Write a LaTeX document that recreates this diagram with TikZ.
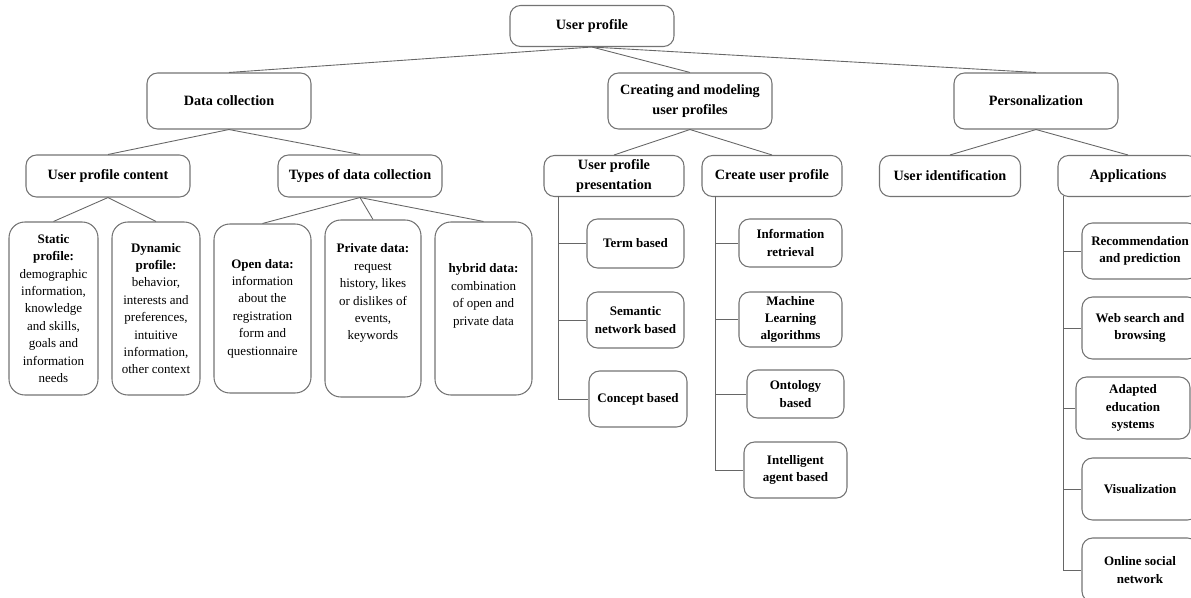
\documentclass[tikz,border=0pt]{standalone}
\usepackage{fontspec}
\setmainfont{Liberation Serif}
\tikzset{
  boxbase/.style={draw=black!55, line width=0.6pt, rounded corners=6pt, align=center, inner sep=1pt},
  headbox/.style={boxbase, font=\fontsize{8.1}{11}\selectfont\bfseries},
  leafbox/.style={boxbase, font=\fontsize{7.4}{9.9}\selectfont\bfseries},
  textbox/.style={boxbase, rounded corners=9pt, font=\fontsize{7.4}{9.9}\selectfont},
  sz/.style 2 args={minimum width=#1*0.02cm, minimum height=#2*0.02cm},
  link/.style={draw=black!60, line width=0.5pt}
}
\begin{document}
\begin{tikzpicture}[x=0.02cm,y=-0.02cm]
\useasboundingbox (0,0) rectangle (1191,598);
\clip (0,0) rectangle (1191,598);

\node[headbox,sz={164}{41}] (up) at (592,26) {User profile};

\node[headbox,sz={164}{56}] (dc) at (229,101) {Data collection};
\node[headbox,sz={164}{56}] (cm) at (690,101) {Creating and modeling\\user profiles};
\node[headbox,sz={164}{56}] (pz) at (1036,101) {Personalization};

\node[headbox,sz={164}{42}] (uc) at (108,176) {User profile content};
\node[headbox,sz={164}{42}] (td) at (360,176) {Types of data collection};
\node[headbox,sz={140}{41}] (upp) at (614,176) {User profile\\presentation};
\node[headbox,sz={140}{41}] (cup) at (772,176) {Create user profile};
\node[headbox,sz={141}{41}] (ui) at (950,176) {User identification};
\node[headbox,sz={140}{41}] (ap) at (1128,176) {Applications};

\node[textbox,sz={89}{173}] (st) at (53.5,308.5) {\textbf{Static}\\\textbf{profile:}\\demographic\\information,\\knowledge\\and skills,\\goals and\\information\\needs};
\node[textbox,sz={88}{173}] (dy) at (156,308.5) {\textbf{Dynamic}\\\textbf{profile:}\\behavior,\\interests and\\preferences,\\intuitive\\information,\\other context};
\node[textbox,sz={97}{169}] (od) at (262.5,308.5) {\textbf{Open data:}\\information\\about the\\registration\\form and\\questionnaire};
\node[textbox,sz={96}{177}] (pd) at (373,308.5) {\textbf{Private data:}\\request\\history, likes\\or dislikes of\\events,\\keywords\\[9pt]};
\node[textbox,sz={97}{173}] (hd) at (483.5,308.5) {\textbf{hybrid data:}\\combination\\of open and\\private data\\[6pt]};

\node[leafbox,sz={97}{49}] (tb) at (635.5,243.5) {Term based};
\node[leafbox,sz={97}{56}] (sn) at (635.5,320) {Semantic\\network based};
\node[leafbox,sz={98}{56}] (cb) at (638,399) {Concept based};

\node[leafbox,sz={103}{48}] (ir) at (790.5,243) {Information\\retrieval};
\node[leafbox,sz={103}{55}] (ml) at (790.5,319.5) {Machine\\Learning\\algorithms};
\node[leafbox,sz={97}{48}] (on) at (795.5,394) {Ontology\\based};
\node[leafbox,sz={103}{56}] (ia) at (795.5,470) {Intelligent\\agent based};

\node[leafbox,sz={116}{56}] (rp) at (1140,251) {Recommendation\\and prediction};
\node[leafbox,sz={116}{62}] (ws) at (1140,328) {Web search and\\browsing};
\node[leafbox,sz={114}{62}] (ae) at (1133,408) {Adapted\\education\\systems};
\node[leafbox,sz={116}{62}] (vi) at (1140,489) {Visualization};
\node[leafbox,sz={116}{64}] (os) at (1140,570) {Online social\\network};

\foreach \a/\b in {up/dc,up/cm,up/pz,dc/uc,dc/td,cm/upp,cm/cup,pz/ui,pz/ap,uc/st,uc/dy,td/od,td/pd,td/hd}
  \draw[link] (\a.south) -- (\b.north);

\coordinate (uppbar) at (558,196);
\coordinate (cupbar) at (715,196);
\coordinate (apbar) at (1063,196);

\draw[link] (uppbar) -- (uppbar |- cb.west);
\foreach \n in {tb,sn,cb}
  \draw[link] (uppbar |- \n.west) -- (\n.west);

\draw[link] (cupbar) -- (cupbar |- ia.west);
\foreach \n in {ir,ml,on,ia}
  \draw[link] (cupbar |- \n.west) -- (\n.west);

\draw[link] (apbar) -- (apbar |- os.west);
\foreach \n in {rp,ws,ae,vi,os}
  \draw[link] (apbar |- \n.west) -- (\n.west);
\end{tikzpicture}
\end{document}
